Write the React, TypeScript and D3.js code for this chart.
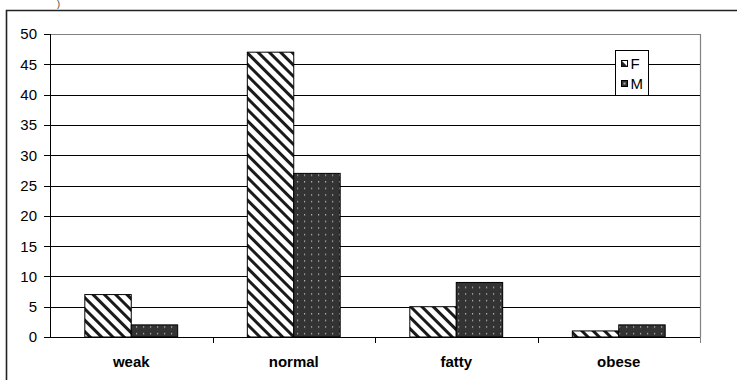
import React from "react";
import * as d3 from "d3";

const categories = ["weak", "normal", "fatty", "obese"];
const seriesNames = ["F", "M"];
const femaleValues = [7, 47, 5, 1];
const maleValues = [2, 27, 9, 2];
const yTicks = [0, 5, 10, 15, 20, 25, 30, 35, 40, 45, 50];

const W = 737;
const H = 380;
const plot = { left: 50, right: 700, top: 34, bottom: 337 };

export default function App() {
  const x = d3.scaleBand<string>().domain(categories).range([plot.left, plot.right]);
  const y = d3.scaleLinear().domain([0, 50]).range([plot.bottom, plot.top]);
  const bw = x.bandwidth();
  const barW = bw / 3.5;
  const series = [femaleValues, maleValues];
  const fills = ["url(#hatchF)", "url(#dotsM)"];
  const font = "'Liberation Sans', Arial, sans-serif";

  return (
    <svg width={W} height={H} style={{ position: "absolute", left: 0, top: 0 }} fontFamily={font}>
      <defs>
        <pattern id="hatchF" width="8" height="8" patternUnits="userSpaceOnUse" patternTransform="rotate(-45)">
          <rect width="8" height="8" fill="#fff" />
          <rect x="0" y="0" width="3" height="8" fill="#1a1a1a" />
        </pattern>
        <pattern id="dotsM" width="7" height="6.6" patternUnits="userSpaceOnUse">
          <rect width="7" height="6.6" fill="#333" />
          <rect x="3" y="3" width="1.2" height="1.2" fill="#c8c8c8" />
        </pattern>
      </defs>
      <rect width={W} height={H} fill="#fff" />
      {/* caption fragment above the frame */}
      <text x={57} y={7} fontSize={9} fill="#333">)</text>
      {/* outer chart frame */}
      <path d={`M${W + 2},10.5 H6.5 V${H + 2}`} fill="none" stroke="#222" strokeWidth={1.6} />

      {/* gridlines */}
      {yTicks.filter((t) => t > 0).map((t) => (
        <line key={t} x1={plot.left} x2={plot.right} y1={Math.round(y(t)) + 0.5} y2={Math.round(y(t)) + 0.5}
          stroke={t === 50 ? "#808080" : "#000"} strokeWidth={1} />
      ))}
      {/* plot area right border */}
      <line x1={plot.right + 0.5} x2={plot.right + 0.5} y1={plot.top} y2={plot.bottom} stroke="#808080" strokeWidth={1.2} />

      {/* bars */}
      {categories.map((c, i) =>
        series.map((vals, s) => {
          const x0 = (x(c) as number) + bw / 2 - barW + s * barW;
          const yTop = y(vals[i]);
          return (
            <rect key={c + s} x={x0} y={yTop} width={barW} height={plot.bottom - yTop}
              fill={fills[s]} stroke="#000" strokeWidth={1} />
          );
        })
      )}

      {/* y axis */}
      <line x1={plot.left + 0.5} x2={plot.left + 0.5} y1={plot.top} y2={plot.bottom} stroke="#000" />
      {yTicks.map((t) => (
        <g key={t}>
          <line x1={plot.left - 6} x2={plot.left} y1={Math.round(y(t)) + 0.5} y2={Math.round(y(t)) + 0.5} stroke="#000" />
          <text x={37} y={y(t)} dy="0.36em" textAnchor="end" fontSize={15} fill="#000">{t}</text>
        </g>
      ))}

      {/* x axis */}
      <line x1={plot.left} x2={plot.right + 1} y1={plot.bottom + 0.5} y2={plot.bottom + 0.5} stroke="#000" />
      {categories.map((c, i) => (
        <line key={"t" + c} x1={Math.round((x(c) as number) + bw) + 0.5} x2={Math.round((x(c) as number) + bw) + 0.5}
          y1={plot.bottom} y2={plot.bottom + 6} stroke={i === categories.length - 1 ? "#808080" : "#000"} />
      ))}
      {categories.map((c) => (
        <text key={"l" + c} x={(x(c) as number) + bw / 2} y={367} textAnchor="middle" fontSize={15} fontWeight="bold" fill="#000">{c}</text>
      ))}

      {/* legend */}
      <g>
        <rect x={615.5} y={50.5} width={33} height={45} fill="#fff" stroke="#000" strokeWidth={1} />
        {seriesNames.map((n, i) => (
          <g key={n}>
            <rect x={621.5} y={60.5 + i * 20} width={6} height={6} fill={i === 0 ? "#fff" : "#333"} stroke="#000" strokeWidth={1} />
            {i === 0 && <path d="M621.5,60.5 L627.5,66.5 L621.5,66.5 Z" fill="#222" />}
            {i === 1 && <rect x={623.5} y={82.5} width={2} height={2} fill="#aaa" />}
            <text x={630.5} y={63.5 + i * 20} dy="0.36em" fontSize={15} fill="#000">{n}</text>
          </g>
        ))}
      </g>
    </svg>
  );
}
